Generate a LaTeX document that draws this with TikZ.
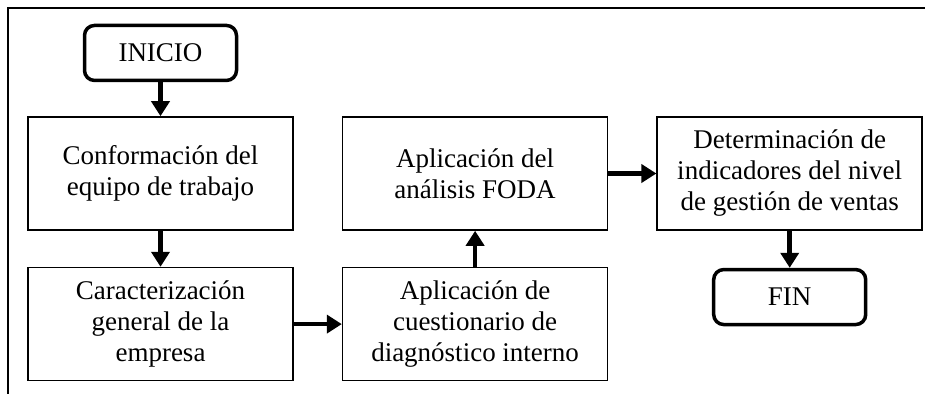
\documentclass[tikz,border=0pt]{standalone}
\usepackage{fontspec}
\setmainfont{Liberation Serif}
\usetikzlibrary{positioning}
\usetikzlibrary{arrows.meta}

\begin{document}
\begin{tikzpicture}[
		node distance=36pt and 48pt,
		box/.style = {
			shape=rectangle,
			draw,
			line width=1.6pt,
			align=center,
			minimum width=265pt,
			minimum height=113pt,
			font=\fontsize{27}{31}\selectfont
		},
		terminal/.style = {
			box,
			rounded corners=10pt,
			line width=3.5pt,
			minimum width=152pt,
			minimum height=55pt
		},
		flow/.style = {
			draw,
			line width=4.5pt,
			-{Triangle[length=15pt,width=18pt]}
		}
		]
		\useasboundingbox (0,0) rectangle (925pt,-394pt);
		\draw[line width=1.5pt] (925pt,-8pt) -- (8pt,-8pt) -- (8pt,-394pt);

		\node[box] (conf) at (160.5pt,-173.5pt) {Conformación del\\equipo de trabajo};
		\node[terminal, above=34pt of conf] (inicio) {INICIO};
		\node[box, below=of conf] (caract) {Caracterización\\general de la\\empresa};
		\node[box, right=of conf] (foda) {Aplicación del\\análisis FODA};
		\node[box, below=of foda] (cuest) {Aplicación de\\cuestionario de\\diagnóstico interno};
		\node[box, right=of foda] (det) {Determinación de\\indicadores del nivel\\de gestión de ventas};
		\node[terminal, below=37pt of det] (fin) {FIN};

		\draw[flow] (inicio) -- (conf);
		\draw[flow] (conf) -- (caract);
		\draw[flow] (caract) -- (cuest);
		\draw[flow] (cuest) -- (foda);
		\draw[flow] (foda) -- (det);
		\draw[flow] (det) -- (fin);
	\end{tikzpicture}
\end{document}
